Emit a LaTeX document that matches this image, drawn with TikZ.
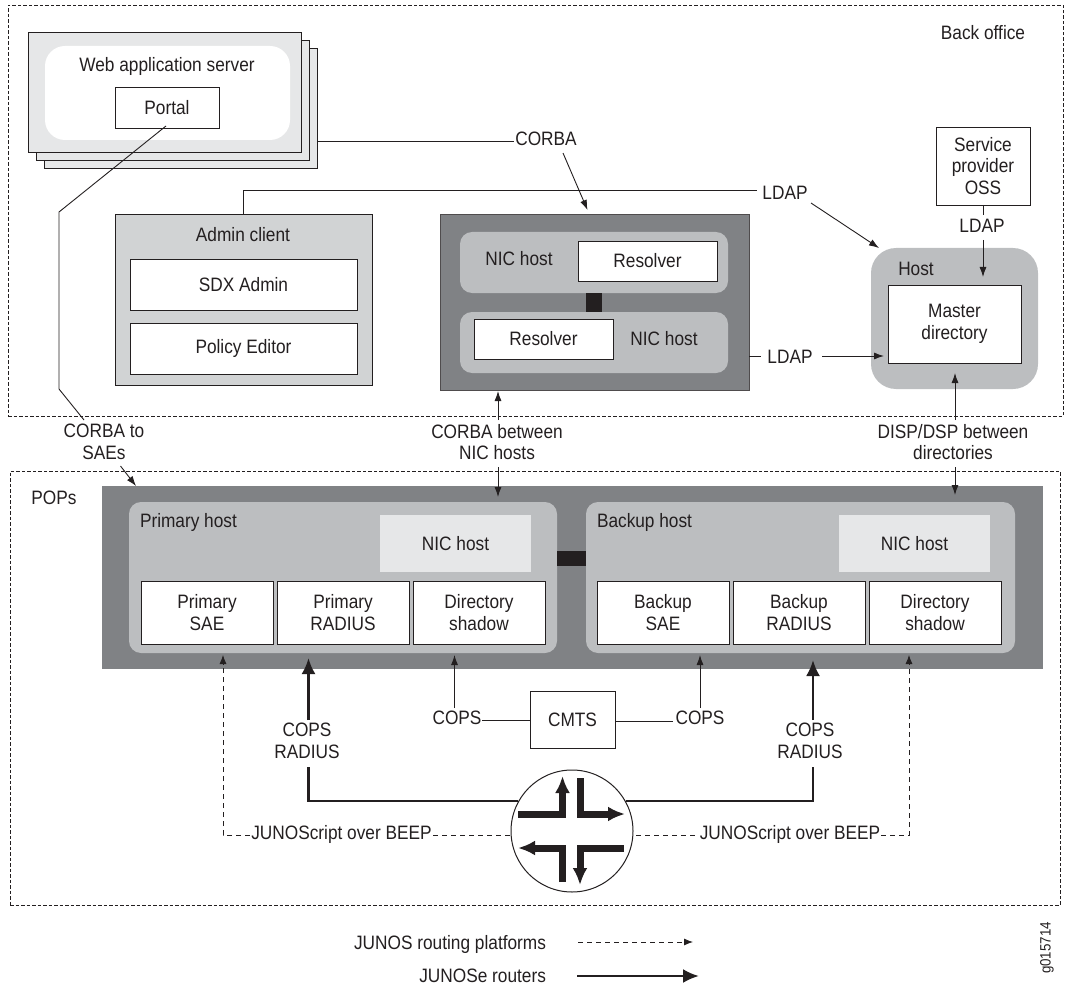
\documentclass[tikz,border=0pt]{standalone}
\usepackage{fontspec}
\setmainfont[FakeStretch=0.89]{Liberation Sans}
\usetikzlibrary{arrows.meta}
\definecolor{ink}{HTML}{231F20}
\definecolor{darkg}{HTML}{808285}
\definecolor{midg}{HTML}{BCBEC0}
\definecolor{softg}{HTML}{D1D3D4}
\definecolor{lightg}{HTML}{E6E7E8}
\newcommand{\bx}[7]{\node[#2,minimum width={(#5)-(#3)},minimum height={(#6)-(#4)}] (#1) at ({((#3)+(#5))/2},{((#4)+(#6))/2}) {#7};}
\tikzset{
  every node/.style={inner sep=0pt,outer sep=0pt,text=ink,align=center,font=\fontsize{19.4}{21.5}\selectfont},
  lbl/.style={},
  frame/.style={draw=ink,line width=0.8pt,dash pattern=on 3.5pt off 2pt},
  whitebox/.style={draw=ink,line width=0.9pt,fill=white},
  stackbox/.style={draw=ink,line width=0.9pt,fill=lightg},
  conn/.style={draw=ink,line width=0.9pt},
  arr/.style={draw=ink,line width=0.9pt,-{Latex[length=10pt,width=7pt]}},
  dasharr/.style={draw=ink,line width=0.8pt,dash pattern=on 5pt off 4pt,-{Latex[length=9pt,width=7pt]}},
  dashln/.style={draw=ink,line width=0.8pt,dash pattern=on 5pt off 4pt},
  thick arr/.style={draw=ink,line width=2.6pt,-{Latex[length=16pt,width=14pt]}},
  thick ln/.style={draw=ink,line width=2.6pt},
  router/.style={draw=ink,line width=7pt,-{Latex[length=17pt,width=15pt]}},
}
\begin{document}
\begin{tikzpicture}[x=1pt,y=-1pt]
\useasboundingbox (0,0) rectangle (1066,987);
% frames
\bx{back}{frame}{8}{5}{1063}{416}{}
\bx{pops}{frame}{10}{471}{1060}{905}{}
\node[lbl] (backl) at (983,33) {Back office};
\node[lbl] (popsl) at (54,498) {POPs};
% web server stack
\bx{stackc}{stackbox}{44}{48}{317}{168}{}
\bx{stackb}{stackbox}{36}{40}{309}{160}{}
\bx{stacka}{stackbox}{28}{32}{301}{152}{}
\bx{webin}{fill=white,rounded corners=20pt}{45}{46}{290}{140}{}
\node[lbl] (webl) at (167,66) {Web application server};
\bx{portal}{whitebox}{115}{87}{219}{128}{Portal}
% admin client
\bx{admin}{draw=ink,line width=0.9pt,fill=softg}{115}{214}{372}{385}{}
\node[lbl] (adminl) at (243,235) {Admin client};
\bx{sdx}{whitebox}{130}{259}{357}{310}{SDX Admin}
\bx{poled}{whitebox}{130}{323}{357}{374}{Policy Editor}
% NIC group
\bx{nicgrp}{draw=ink!80,line width=0.9pt,fill=darkg}{440}{214}{749}{390}{}
\bx{nicup}{fill=midg,rounded corners=12pt}{460}{232}{728}{293}{}
\bx{niclo}{fill=midg,rounded corners=12pt}{460}{312}{728}{373}{}
\bx{niclink}{fill=ink}{586}{293}{602}{312}{}
\node[lbl] (nicupl) at (519,259) {NIC host};
\node[lbl] (niclol) at (664,339) {NIC host};
\bx{resa}{whitebox}{578}{241}{717}{281}{Resolver}
\bx{resb}{whitebox}{474}{319}{613}{359}{Resolver}
% OSS and host
\bx{oss}{whitebox}{936}{127}{1030}{205}{Service\\provider\\OSS}
\bx{host}{fill=midg,rounded corners=25pt}{871}{248}{1038}{389}{}
\node[lbl] (hostl) at (916,269) {Host};
\bx{master}{whitebox}{888}{285}{1021}{363}{Master\\directory}
% POP group
\bx{popgrp}{fill=darkg}{102}{486}{1043}{669}{}
\bx{prim}{fill=midg,rounded corners=12pt}{129}{502}{557}{653}{}
\bx{back2}{fill=midg,rounded corners=12pt}{586}{502}{1015}{653}{}
\bx{poplink}{fill=ink}{557}{551}{586}{566}{}
\node[lbl,anchor=west] (priml) at (140,522) {Primary host};
\node[lbl,anchor=west] (backl2) at (597,522) {Backup host};
\bx{nica}{fill=lightg}{380}{515}{531}{572}{NIC host}
\bx{nicb}{fill=lightg}{839}{515}{990}{572}{NIC host}
\bx{psae}{whitebox}{141}{581}{273}{644}{Primary\\SAE}
\bx{prad}{whitebox}{277}{581}{409}{644}{Primary\\RADIUS}
\bx{pdir}{whitebox}{413}{581}{545}{644}{Directory\\shadow}
\bx{bsae}{whitebox}{597}{581}{729}{644}{Backup\\SAE}
\bx{brad}{whitebox}{733}{581}{865}{644}{Backup\\RADIUS}
\bx{bdir}{whitebox}{869}{581}{1001}{644}{Directory\\shadow}
% CMTS
\bx{cmts}{draw=ink,line width=0.9pt,fill=white}{530}{691}{615}{748}{CMTS}
% labels
\node[lbl] (corba) at (546,139) {CORBA};
\node[lbl] (ldapa) at (785,193) {LDAP};
\node[lbl] (ldapb) at (982,226) {LDAP};
\node[lbl] (ldapc) at (790,357) {LDAP};
\node[lbl] (corbasae) at (104,442) {CORBA to\\SAEs};
\node[lbl] (corbanic) at (497,442) {CORBA between\\NIC hosts};
\node[lbl] (disp) at (953,442) {DISP/DSP between\\directories};
\node[lbl] (copsa) at (457,718) {COPS};
\node[lbl] (copsb) at (700,718) {COPS};
\node[lbl] (crl) at (307,741) {COPS\\RADIUS};
\node[lbl] (crr) at (810,741) {COPS\\RADIUS};
\node[lbl] (junl) at (341.5,834) {JUNOScript over BEEP};
\node[lbl] (junr) at (790,834) {JUNOScript over BEEP};
\node[lbl,anchor=east] (lega) at (546,944) {JUNOS routing platforms};
\node[lbl,anchor=east] (legb) at (546,976) {JUNOSe routers};
\node[lbl,rotate=90,font=\fontsize{15}{16}\selectfont] (gnum) at (1047,948) {g015714};
% free-end coordinates
\coordinate (p1) at (166,126); \coordinate (p2) at (59,212); \coordinate (p3) at (59,389); \coordinate (p4) at (84,420);
\coordinate (p5) at (120.5,466); \coordinate (p6) at (136,486);
\coordinate (c1) at (514,141); \coordinate (c2) at (563,153); \coordinate (c3) at (587.5,210);
\coordinate (a1) at (243,190); \coordinate (a2) at (757,190); \coordinate (a3) at (811,203); \coordinate (a4) at (879,248);
\coordinate (o1) at (983,215); \coordinate (o2) at (983,240); \coordinate (o3) at (983,277);
\coordinate (l1) at (761,356); \coordinate (l2) at (822,356); \coordinate (l3) at (884,356);
\coordinate (n1) at (498,420); \coordinate (n2) at (498,391); \coordinate (n3) at (498,467); \coordinate (n4) at (498,497);
\coordinate (d1) at (955,420); \coordinate (d2) at (955,373); \coordinate (d3) at (955,467); \coordinate (d4) at (955,495);
\coordinate (s1) at (454.5,708); \coordinate (s2) at (454.5,655); \coordinate (s3) at (700,708); \coordinate (s4) at (700,655);
\coordinate (t1) at (308.5,720); \coordinate (t2) at (308.5,658); \coordinate (t3) at (813,720); \coordinate (t4) at (813,660);
\coordinate (t5) at (308.5,767); \coordinate (t6) at (308.5,801); \coordinate (t7) at (518,801);
\coordinate (t8) at (813,767); \coordinate (t9) at (813,801); \coordinate (t10) at (626,801);
\coordinate (j1) at (223,835); \coordinate (j2) at (223,655); \coordinate (j3) at (250,835); \coordinate (j4) at (433,835); \coordinate (j5) at (511,835);
\coordinate (j6) at (636,835); \coordinate (j7) at (698,835); \coordinate (j8) at (881,835); \coordinate (j9) at (909,835); \coordinate (j10) at (909,655);
\coordinate (m1) at (482,720); \coordinate (m2) at (673,721);
\coordinate (g1) at (578,942); \coordinate (g2) at (693,942); \coordinate (g3) at (577,976); \coordinate (g4) at (699,976);
% connectors
\draw[conn] (p1) -- (p2) -- (p3) -- (p4);
\draw[arr] (p5) -- (p6);
\draw[conn] (stackc.east |- c1) -- (c1);
\draw[arr] (c2) -- (c3);
\draw[conn] (admin.north -| a1) -- (a1) -- (a2);
\draw[arr] (a3) -- (a4);
\draw[conn] (oss.south -| o1) -- (o1);
\draw[arr] (o2) -- (o3);
\draw[conn] (nicgrp.east |- l1) -- (l1);
\draw[arr] (l2) -- (l3);
\draw[arr] (n1) -- (n2);
\draw[arr] (n3) -- (n4);
\draw[arr] (d1) -- (d2);
\draw[arr] (d3) -- (d4);
\draw[arr] (s1) -- (s2);
\draw[arr] (s3) -- (s4);
\draw[conn] (m1) -- (cmts.west |- m1);
\draw[conn] (cmts.east |- m2) -- (m2);
\draw[thick arr] (t1) -- (t2);
\draw[thick arr] (t3) -- (t4);
\draw[thick ln] (t5) -- (t6) -- (t7);
\draw[thick ln] (t8) -- (t9) -- (t10);
\draw[dasharr] (j3) -- (j1) -- (j2);
\draw[dashln] (j4) -- (j5);
\draw[dashln] (j6) -- (j7);
\draw[dasharr] (j8) -- (j9) -- (j10);
\draw[dasharr] (g1) -- (g2);
\draw[thick arr] (g3) -- (g4);
% router
\node[draw=ink,line width=1pt,fill=white,circle,minimum size=122pt] (rtr) at (572,831) {};
\coordinate (r1) at (518,814); \coordinate (r2) at (562.5,814); \coordinate (r3) at (562.5,776);
\coordinate (r4) at (580,778); \coordinate (r5) at (580,814); \coordinate (r6) at (625,814);
\coordinate (r7) at (562.5,882); \coordinate (r8) at (562.5,848); \coordinate (r9) at (518,848);
\coordinate (r10) at (624,848); \coordinate (r11) at (580,848); \coordinate (r12) at (580,885);
\draw[router] (r1) -- (r2) -- (r3);
\draw[router] (r4) -- (r5) -- (r6);
\draw[router] (r7) -- (r8) -- (r9);
\draw[router] (r10) -- (r11) -- (r12);
\end{tikzpicture}
\end{document}
